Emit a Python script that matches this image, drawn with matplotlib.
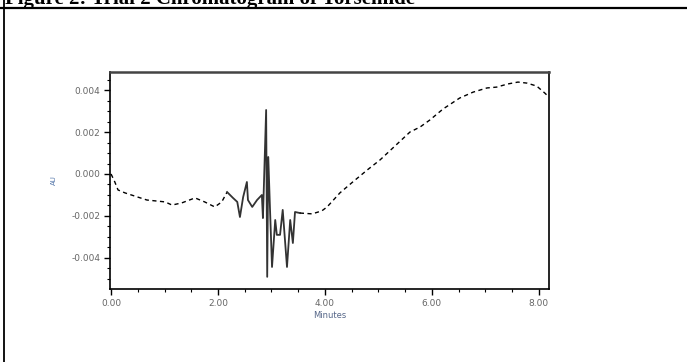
import numpy as np
import matplotlib
matplotlib.use('Agg')
import matplotlib.pyplot as plt
from matplotlib.ticker import MultipleLocator

# retention time (min) and absorbance (AU)
minutes = [0.00, 0.07, 0.13, 0.26, 0.50, 0.67, 1.01, 1.14, 1.32, 1.57, 1.75, 1.94,
           2.07, 2.17, 2.28, 2.36, 2.41, 2.47, 2.54, 2.56, 2.64, 2.73, 2.82,
           2.84, 2.90, 2.92, 2.94, 2.97, 3.01, 3.07, 3.10, 3.16, 3.21, 3.29, 3.35,
           3.40, 3.44,
           3.53, 3.76, 3.94, 4.04, 4.28, 4.52, 4.79, 5.03, 5.27, 5.59, 5.78, 5.96,
           6.21, 6.52, 6.77, 7.03, 7.21, 7.42, 7.61, 7.78, 7.96, 8.11, 8.17]
au = [0.0000, -0.00038, -0.00076, -0.00090, -0.00110, -0.00124, -0.00133, -0.00148,
      -0.00138, -0.00114, -0.00133, -0.00157,
      -0.00133, -0.00086, -0.00114, -0.00133, -0.00205, -0.00110, -0.00038, -0.00124,
      -0.00157, -0.00124, -0.00100,
      -0.00210, 0.00305, -0.00490, 0.00081, -0.00150, -0.00443, -0.00219, -0.00290,
      -0.00290, -0.00171, -0.00443, -0.00219, -0.00329, -0.00181,
      -0.00186, -0.00190, -0.00176, -0.00157, -0.00090, -0.00038, 0.00019, 0.00067,
      0.00124, 0.00200, 0.00224, 0.00257, 0.00310, 0.00362, 0.00390, 0.00410,
      0.00414, 0.00429, 0.00438, 0.00433, 0.00419, 0.00386, 0.00371]

x_ticks = [0.0, 2.0, 4.0, 6.0, 8.0]
x_ticklabels = ['0.00', '2.00', '4.00', '6.00', '8.00']
y_ticks = [0.004, 0.002, 0.000, -0.002, -0.004]
y_ticklabels = ['0.004', '0.002', '0.000', '-0.002', '-0.004']

fig = plt.figure(figsize=(6.87, 3.62), dpi=100)

# document heading, clipped at the top edge of the scan like the original
fig.text(0.008, 1 - 4 / 362., 'Figure 2: Trial 2 Chromatogram of Torsemide',
         family='Liberation Serif', weight='bold', fontsize=15,
         ha='left', va='baseline')

# table border lines from the document
fig.add_artist(plt.Line2D([0, 1], [1 - 7.5 / 362., 1 - 7.5 / 362.],
                          color='black', lw=1.6, transform=fig.transFigure))
fig.add_artist(plt.Line2D([3.5 / 687., 3.5 / 687.], [0, 1],
                          color='black', lw=1.3, transform=fig.transFigure))

ax = fig.add_axes([110 / 687., 1 - 289 / 362., 439 / 687., 217 / 362.])

# smooth parts look dashed in the scan, the noisy region solid
i0 = minutes.index(2.17)
i1 = minutes.index(3.53)
ax.plot(minutes[:i0 + 1], au[:i0 + 1], color='black', lw=1.0, ls=(0, (3, 2.5)))
ax.plot(minutes[i0:i1 + 1], au[i0:i1 + 1], color='#333333', lw=1.3)
ax.plot(minutes[i1:], au[i1:], color='black', lw=1.0, ls=(0, (3, 2.5)))

ax.set_xlim(-0.02, 8.19)
ax.set_ylim(-0.00548, 0.00486)
ax.set_xticks(x_ticks)
ax.set_xticklabels(x_ticklabels)
ax.set_yticks(y_ticks)
ax.set_yticklabels(y_ticklabels)
ax.xaxis.set_minor_locator(MultipleLocator(0.5))
ax.yaxis.set_minor_locator(MultipleLocator(0.0005))
ax.tick_params(which='major', direction='out', length=4, width=1,
               labelsize=6.5, labelcolor='#666666', pad=3)
ax.tick_params(which='minor', direction='out', length=2.5, width=0.8)
for s in ax.spines.values():
    s.set_linewidth(1.2)
ax.spines['top'].set_color('#444444')
ax.spines['top'].set_linewidth(1.8)

ax.set_xlabel('Minutes', fontsize=6, color='#556688', labelpad=2)
ax.set_ylabel('AU', fontsize=5, color='#5577aa', labelpad=10)

fig.savefig('out.png', dpi=100)
plt.close(fig)
